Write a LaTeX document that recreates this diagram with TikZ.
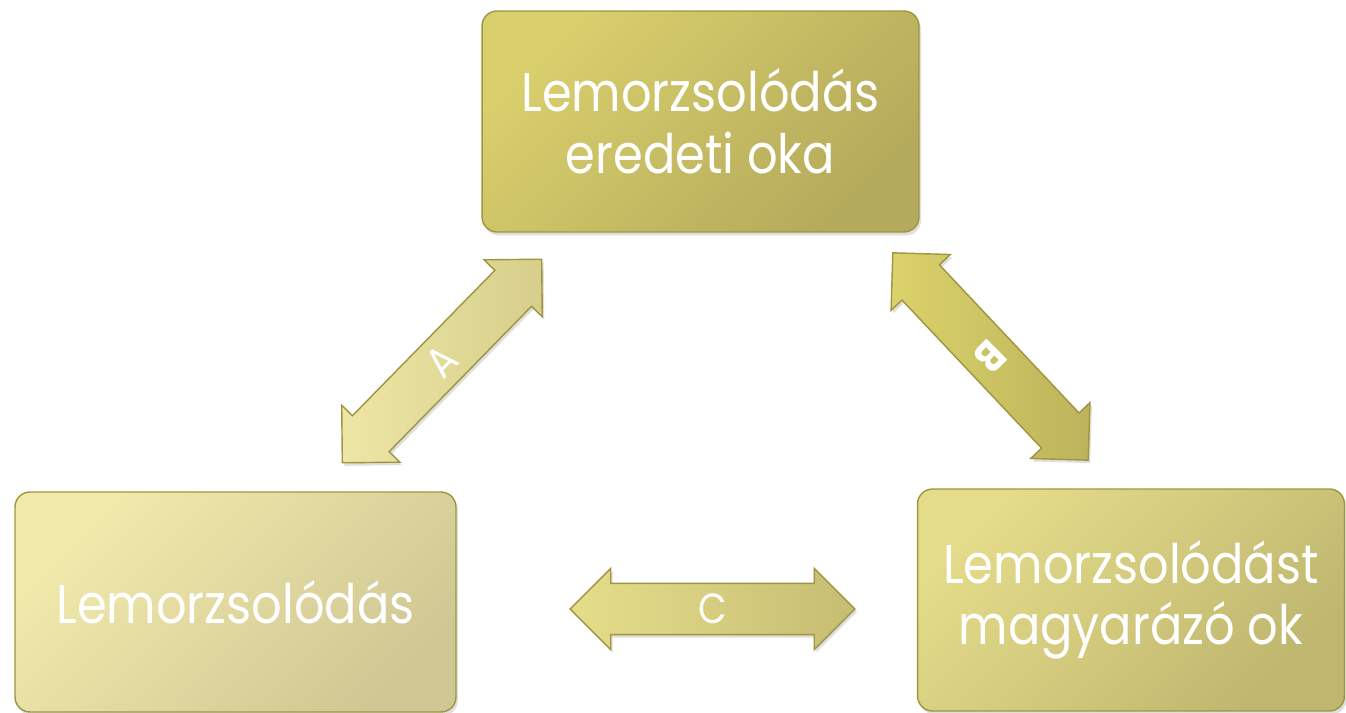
\documentclass[tikz,border=0pt]{standalone}
\usepackage{fontspec}
\setmainfont{Poppins}[FakeStretch=0.88]
\usetikzlibrary{shapes.arrows,shadows}
\definecolor{edgeolive}{HTML}{9E963E}
\definecolor{topA}{HTML}{D9CF6D}
\definecolor{topB}{HTML}{B4AA5B}
\definecolor{leftA}{HTML}{F1EAAB}
\definecolor{leftB}{HTML}{D0C794}
\definecolor{rightA}{HTML}{E4DC8A}
\definecolor{rightB}{HTML}{BFB66F}
\definecolor{arrAa}{HTML}{EDE6A5}
\definecolor{arrAb}{HTML}{D7CE8B}
\definecolor{arrBa}{HTML}{DBD26B}
\definecolor{arrBb}{HTML}{BCB35C}
\definecolor{arrCa}{HTML}{E6DD8B}
\definecolor{arrCb}{HTML}{C6BD74}
\tikzset{
  causebox/.style={rectangle, rounded corners=0.3cm, draw=edgeolive, line width=0.8pt,
    text=white, align=center, font=\fontsize{31}{35}\selectfont,
    drop shadow={opacity=0.25, shadow xshift=0.04cm, shadow yshift=-0.07cm}},
  linkarrow/.style={double arrow, double arrow head extend=0.3cm, minimum height=5.7cm,
    inner xsep=0pt, inner ysep=0.5cm, draw=edgeolive, line width=0.8pt,
    drop shadow={opacity=0.25, shadow xshift=0.04cm, shadow yshift=-0.06cm}},
  arrowlabel/.style={text=white, inner sep=0pt, font=\fontsize{24}{24}\selectfont},
}

\begin{document}
\begin{tikzpicture}[x=0.02cm, y=-0.02cm]
	%%%%% START %%%%%
	\useasboundingbox (0, 0) rectangle (1346, 713);
	
	\node[causebox, top color=topA, bottom color=topB, shading angle=45,
	  minimum width=8.74cm, minimum height=4.42cm] (origin) at (700.5, 121.5)
	  {Lemorzsolódás\\eredeti oka};
	\node[causebox, top color=leftA, bottom color=leftB, shading angle=45,
	  minimum width=8.82cm, minimum height=4.4cm] (dropout) at (235.5, 602)
	  {Lemorzsolódás};
	\node[causebox, top color=rightA, bottom color=rightB, shading angle=45,
	  minimum width=8.54cm, minimum height=4.44cm] (explain) at (1131, 600)
	  {Lemorzsolódást\\magyarázó ok};
	
	%%%%% ARROWS %%%%%
	\node[linkarrow, left color=arrAa, right color=arrAb, rotate=45.6] (arrA) at (442, 361) {};
	\node[arrowlabel, rotate=45.6] (labA) at (arrA.center) {A};
	
	\node[linkarrow, left color=arrBa, right color=arrBb, rotate=-46.7] (arrB) at (990.5, 356.5) {};
	\node[arrowlabel, font=\fontsize{24}{24}\selectfont\bfseries, rotate=-135] (labB) at (arrB.center) {B};
	
	\node[linkarrow, left color=arrCa, right color=arrCb] (arrC) at (712.5, 609) {};
	\node[arrowlabel] (labC) at (arrC.center) {C};
	
	%%%%% END %%%%%
\end{tikzpicture}
\end{document}
